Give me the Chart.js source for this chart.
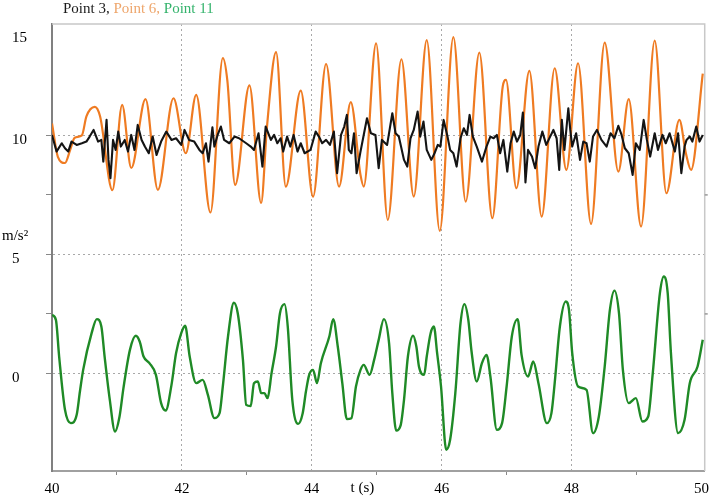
<!DOCTYPE html>
<html>
<head>
<meta charset="utf-8">
<script src="https://cdn.jsdelivr.net/npm/chart.js@4.4.1/dist/chart.umd.min.js"></script>
<style>
  html, body { margin: 0; padding: 0; background: #fff; }
  #wrap { width: 714px; height: 498px; }
</style>
</head>
<body>
<div id="wrap"><canvas id="accelChart"></canvas></div>
<script>
'use strict'

// Point 3 (black) - time (s) and acceleration (m/s2)
var p3Time = [40.00,40.07,40.15,40.20,40.25,40.30,40.38,40.46,40.53,40.58,40.64,40.71,40.76,40.79,40.84,40.87,40.90,40.94,40.98,
  41.02,41.06,41.12,41.17,41.22,41.27,41.32,41.38,41.43,41.49,41.55,41.61,41.68,41.76,41.84,41.91,41.99,
  42.04,42.11,42.19,42.27,42.32,42.37,42.41,42.47,42.50,42.55,42.60,42.65,42.73,42.81,42.88,42.99,
  43.06,43.11,43.18,43.24,43.29,43.37,43.42,43.47,43.52,43.56,43.62,43.67,43.72,43.78,43.83,43.89,43.98,
  44.06,44.11,44.16,44.22,44.28,44.34,44.39,44.45,44.50,44.54,44.57,44.61,44.65,44.69,44.75,44.79,44.85,44.91,44.98,
  45.03,45.08,45.16,45.24,45.29,45.34,45.42,45.47,45.52,45.57,45.63,45.67,45.72,45.77,45.84,45.89,45.94,45.98,
  46.03,46.09,46.13,46.18,46.23,46.29,46.34,46.39,46.43,46.48,46.54,46.62,46.69,46.75,46.80,46.85,46.90,46.95,
  47.01,47.06,47.11,47.16,47.21,47.25,47.29,47.33,47.39,47.44,47.49,47.55,47.61,47.67,47.72,47.77,47.81,47.85,47.89,47.95,47.98,
  48.01,48.07,48.13,48.18,48.23,48.28,48.33,48.39,48.46,48.54,48.60,48.66,48.72,48.77,48.82,48.88,48.94,48.99,
  49.05,49.11,49.16,49.21,49.28,49.33,49.40,49.45,49.51,49.59,49.64,49.69,49.74,49.77,49.82,49.86,49.92,49.97,50.02];
var p3Accel = [10.02,9.32,9.67,9.46,9.32,9.74,9.6,9.67,9.74,9.95,10.23,9.74,9.81,8.9,10.65,8.97,8.2,9.81,9.39,
  10.16,9.53,9.81,9.32,10.02,9.39,10.44,9.81,9.53,9.25,9.95,9.18,9.74,10.16,9.81,9.88,9.6,
  10.23,9.81,9.74,9.39,9.25,9.67,8.9,10.34,9.53,10.02,10.37,9.81,9.67,9.95,9.88,9.67,
  9.53,9.39,10.09,8.69,10.37,9.81,10.02,9.67,9.88,9.32,9.95,9.53,10.02,9.32,9.67,9.25,9.39,
  10.16,9.95,9.67,9.81,9.6,10.16,8.41,10.02,10.37,10.86,9.39,9.25,10.09,8.41,9.32,9.88,10.72,10.09,10.02,
  8.62,9.81,9.6,10.93,10.09,9.95,8.97,8.69,9.88,10.23,11.0,9.95,10.58,9.39,8.97,9.25,9.6,9.53,
  10.65,9.95,9.39,9.25,8.69,9.88,10.3,10.02,10.86,9.95,9.53,8.9,9.53,9.95,9.88,10.02,9.25,9.81,
  8.48,9.67,10.16,9.74,10.02,10.96,8.02,9.39,9.11,8.62,9.53,10.16,9.6,9.95,10.23,9.88,8.55,10.65,9.39,11.14,10.23,
  9.53,10.09,8.97,9.74,9.67,8.9,9.95,10.23,9.81,9.53,10.09,9.88,10.4,10.02,9.46,9.25,8.34,9.67,
  9.39,10.65,9.81,9.11,10.09,9.39,10.02,9.67,10.09,9.32,10.09,8.41,9.53,9.81,9.95,9.74,10.37,9.74,10.02];

// Point 6 (orange)
var p6Time = [40.00,40.09,40.20,40.28,40.35,40.46,40.53,40.66,40.74,40.93,41.08,41.22,41.44,41.63,41.87,
  42.06,42.22,42.44,42.63,42.70,42.82,43.04,43.22,43.31,43.45,43.60,43.83,44.02,44.22,44.42,44.60,44.75,44.80,44.99,
  45.17,45.38,45.57,45.77,45.97,46.18,46.37,46.58,46.78,46.94,46.99,47.15,47.35,47.54,47.74,47.92,
  48.10,48.30,48.51,48.72,48.88,49.07,49.28,49.46,49.66,49.76,49.84,50.02];
var p6Accel = [10.5,9.1,8.84,9.39,9.9,10.0,10.8,11.2,10.8,7.7,11.28,8.63,11.52,7.71,11.56,
  9.25,11.7,6.76,13.25,12.3,7.92,12.1,7.16,10.36,13.5,7.85,11.88,7.43,13.0,7.85,11.4,8.34,7.85,13.87,
  6.45,13.2,7.43,14.0,5.99,14.13,7.22,13.48,6.52,12.05,12.33,7.78,12.71,6.59,12.82,8.55,
  13.03,6.28,13.9,8.48,11.52,6.17,13.98,7.57,10.65,9.25,8.55,12.6];

// Point 11 (green)
var p11Time = [40.00,40.06,40.11,40.20,40.29,40.38,40.43,40.48,40.61,40.69,40.76,40.81,40.89,40.97,
  41.04,41.10,41.20,41.29,41.35,41.41,41.50,41.60,41.68,41.75,41.84,41.91,41.99,
  42.05,42.12,42.22,42.32,42.40,42.50,42.58,42.63,42.71,42.80,42.86,42.94,42.99,
  43.06,43.11,43.17,43.22,43.27,43.32,43.38,43.45,43.51,43.58,43.63,43.70,43.79,43.86,43.91,43.96,
  44.02,44.08,44.14,44.27,44.33,44.40,44.47,44.54,44.61,44.68,44.75,44.80,44.89,44.96,
  45.03,45.11,45.19,45.24,45.30,45.37,45.42,45.48,45.56,45.61,45.65,45.73,45.77,45.83,45.88,45.93,45.99,
  46.07,46.13,46.21,46.29,46.35,46.41,46.46,46.54,46.62,46.69,46.75,46.85,46.93,
  47.00,47.08,47.17,47.23,47.33,47.41,47.49,47.62,47.69,47.74,47.82,47.91,47.96,
  48.01,48.10,48.23,48.33,48.42,48.51,48.59,48.66,48.73,48.79,48.88,48.99,
  49.09,49.18,49.25,49.36,49.42,49.48,49.53,49.64,49.74,49.82,49.94,50.02];
var p11Accel = [2.46,2.25,0.71,-1.53,-2.09,-1.74,-0.76,0.15,1.69,2.28,1.97,0.71,-1.11,-2.44,
  -1.81,-0.62,0.99,1.58,1.34,0.71,0.43,-0.06,-1.25,-1.56,-0.48,0.85,1.69,
  2.0,0.71,-0.41,-0.27,-0.9,-1.88,-1.67,-0.55,1.55,2.97,2.53,0.57,-1.32,
  -1.37,-0.41,-0.34,-0.83,-0.83,-1.04,0.0,1.13,2.53,2.91,1.97,-1.11,-2.12,-1.67,-0.76,-0.06,
  0.15,-0.41,0.43,1.55,2.28,1.13,-0.41,-1.92,-1.88,-0.55,0.15,0.36,-0.06,0.57,
  1.41,2.28,1.27,-0.83,-2.4,-2.16,-1.11,0.71,1.58,1.13,0.29,-0.06,0.71,1.69,1.97,0.85,-0.55,
  -3.21,-2.79,-0.83,2.11,2.91,2.25,0.92,-0.34,0.43,0.78,-0.13,-2.37,-2.09,
  -0.55,1.55,2.28,0.78,-0.13,0.5,-0.41,-2.09,-1.67,-0.41,1.97,3.02,2.67,
  0.85,-0.55,-0.69,-2.51,-1.81,0.29,2.67,3.48,2.53,0.15,-1.25,-1.04,
  -2.02,-1.81,0.0,3.37,4.07,3.37,0.85,-2.51,-1.95,-0.41,0.29,1.41];

// Axis ticks
var xTickValues = [40, 41, 42, 43, 44, 45, 46, 47, 48, 49, 50];
var xTickLabels = ['40', '', '42', '', '44', '', '46', '', '48', '', '50'];
var yTickValues = [0, 2.5, 5, 7.5, 10, 14.32];
var yTickLabels = ['0', '', '5', '', '10', '15'];

var titleParts = ['Point 3, ', 'Point 6, ', 'Point 11'];
var titleColors = ['#1a1a1a', '#eea66c', '#34b36c'];

var serif = "'Liberation Serif', 'Times New Roman', serif";
Chart.defaults.font.family = serif;
Chart.defaults.font.size = 15;
Chart.defaults.color = '#000';

function toPoints(t, v) {
  return t.map(function(x, i) { return {x: x, y: v[i]}; });
}

var clear = 'rgba(0,0,0,0)';

// Title, unit labels and the top/right frame
var extras = {
  id: 'extras',
  afterDraw: function(chart) {
    var ctx = chart.ctx;
    var area = chart.chartArea;
    var yScale = chart.scales.y;
    ctx.save();
    ctx.strokeStyle = '#c8c8c8';
    ctx.lineWidth = 1.5;
    ctx.beginPath();
    ctx.moveTo(area.left, area.top);
    ctx.lineTo(area.right, area.top);
    ctx.lineTo(area.right, area.bottom);
    ctx.stroke();
    // small ticks on right edge
    ctx.strokeStyle = '#999';
    [2.5, 7.5].forEach(function(v) {
      var py = yScale.getPixelForValue(v);
      ctx.beginPath();
      ctx.moveTo(area.right, py);
      ctx.lineTo(area.right + 3, py);
      ctx.stroke();
    });

    ctx.font = '15px ' + serif;
    ctx.textBaseline = 'alphabetic';
    ctx.textAlign = 'left';
    var x = 63;
    titleParts.forEach(function(s, i) {
      ctx.fillStyle = titleColors[i];
      ctx.fillText(s, x, 13);
      x += ctx.measureText(s).width;
    });

    ctx.fillStyle = '#000';
    ctx.textBaseline = 'middle';
    ctx.fillText('m/s\u00b2', 2, 236);
    ctx.textAlign = 'center';
    ctx.fillText('t (s)', chart.scales.x.getPixelForValue(44.78), 488);
    ctx.restore();
  }
};

var chart = new Chart(document.getElementById('accelChart'), {
  type: 'line',
  data: {
    datasets: [{
      label: 'Point 3',
      data: toPoints(p3Time, p3Accel),
      borderColor: '#141414',
      borderWidth: 2.1,
      borderJoinStyle: 'round',
      tension: 0,
      pointRadius: 0
    },
    {
      label: 'Point 6',
      data: toPoints(p6Time, p6Accel),
      borderColor: '#ef7b22',
      borderWidth: 2.2,
      cubicInterpolationMode: 'monotone',
      pointRadius: 0
    },
    {
      label: 'Point 11',
      data: toPoints(p11Time, p11Accel),
      borderColor: '#1f8a26',
      borderWidth: 2.4,
      cubicInterpolationMode: 'monotone',
      pointRadius: 0
    }]
  },
  options: {
    responsive: true,
    maintainAspectRatio: false,
    animation: false,
    layout: { padding: { left: 12, top: 24, right: 7, bottom: 0 } },
    plugins: {
      legend: { display: false },
      title: { display: false },
      tooltip: { enabled: false }
    },
    scales: {
      x: {
        type: 'linear',
        min: 40,
        max: 50.05,
        afterFit: function(scale) { scale.height = 27; },
        afterBuildTicks: function(scale) {
          scale.ticks = xTickValues.map(function(v) { return {value: v}; });
        },
        ticks: {
          autoSkip: false,
          maxRotation: 0,
          padding: 5,
          callback: function(value, index) { return xTickLabels[index]; }
        },
        grid: {
          lineWidth: 1,
          tickLength: 4,
          color: function(c) {
            var v = c.tick ? c.tick.value : 0;
            return (v > 40 && v < 50 && v % 2 === 0) ? '#a8a8a8' : clear;
          },
          tickColor: function(c) {
            var v = c.tick ? c.tick.value : 0;
            return (v % 2 === 1) ? '#888' : clear;
          }
        },
        border: { color: '#a0a0a0', width: 2, dash: [2, 3] }
      },
      y: {
        type: 'linear',
        min: -4.1,
        max: 14.68,
        afterFit: function(scale) { scale.width = 40; },
        afterBuildTicks: function(scale) {
          scale.ticks = yTickValues.map(function(v) { return {value: v}; });
        },
        ticks: {
          autoSkip: false,
          crossAlign: 'far',
          labelOffset: 5,
          callback: function(value, index) { return yTickLabels[index]; }
        },
        grid: {
          lineWidth: 1,
          tickLength: 6,
          color: function(c) {
            var v = c.tick ? c.tick.value : -1;
            return (v === 0 || v === 5 || v === 10) ? '#a8a8a8' : clear;
          },
          tickColor: function(c) {
            var v = c.tick ? c.tick.value : -1;
            return (v > 11) ? clear : '#888';
          }
        },
        border: { color: '#808080', width: 2, dash: [2, 3] }
      }
    }
  },
  plugins: [extras]
});
</script>
</body>
</html>
